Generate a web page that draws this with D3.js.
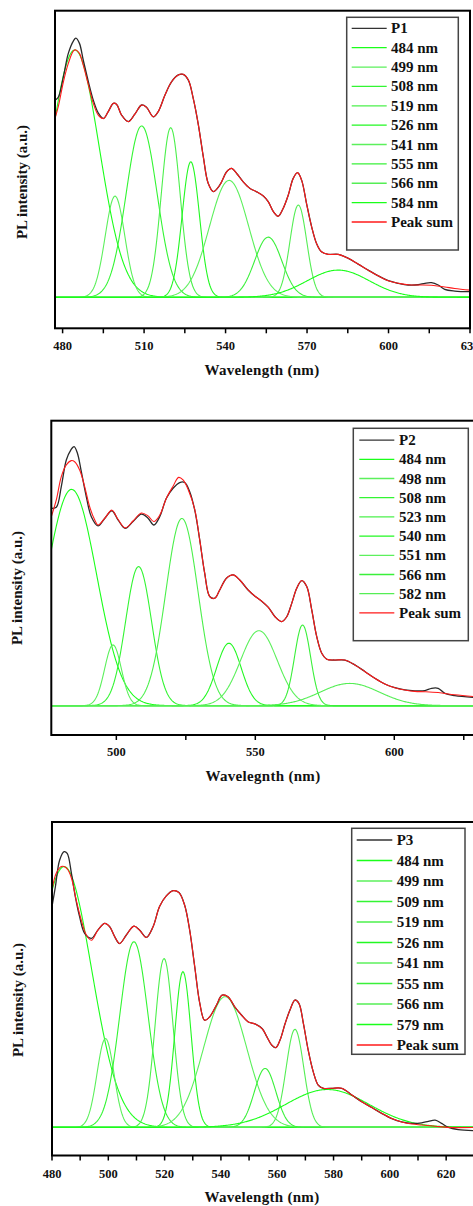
<!DOCTYPE html>
<html>
<head>
<meta charset="utf-8">
<script src="https://cdn.jsdelivr.net/npm/d3@7"></script>
<style>
body { margin: 0; background: #fff; }
svg text { font-family: "Liberation Serif", "Times New Roman", serif; font-weight: bold; fill: #111; }
</style>
</head>
<body>
<div id="canvas"></div>
<script>
// ---- P1 ----
var p1Measured = [[477.2,68.8],[478.4,69.8],[480.3,77.0],[482.1,85.1],[484.0,89.5],[484.9,90.4],[486.2,88.6],[487.6,82.8],[489.5,75.2],[491.3,68.8],[493.2,64.2],[495.0,62.4],[496.8,64.8],[498.7,67.7],[499.9,67.3],[501.7,63.6],[504.2,61.3],[506.6,63.9],[509.1,67.1],[510.9,66.3],[513.4,63.0],[515.2,64.8],[517.7,70.6],[520.1,75.2],[522.6,77.6],[524.4,77.8],[526.3,75.8],[528.1,69.4],[530.0,60.1],[531.8,49.1],[533.6,39.8],[535.5,36.9],[537.9,39.2],[540.4,43.8],[542.2,45.0],[544.1,43.2],[546.5,40.3],[549.0,38.0],[551.5,36.8],[554.0,35.3],[555.7,33.4],[557.6,29.9],[559.4,28.3],[561.2,31.0],[563.1,35.7],[564.9,41.5],[566.5,43.5],[568.0,40.9],[569.8,32.8],[571.7,24.6],[573.5,18.8],[575.3,15.9],[577.8,15.0],[581.5,15.0],[585.2,13.6],[588.8,11.6],[592.5,9.5],[596.2,7.5],[599.9,5.8],[603.6,4.9],[607.2,4.3],[610.9,4.4],[613.4,4.9],[615.8,5.1],[618.3,4.3],[620.7,2.8],[624.4,2.2],[630.0,2.0]];
var p1Sum = [[477.2,62.4],[478.4,66.5],[480.3,75.2],[482.1,81.6],[484.0,86.0],[484.9,86.3],[486.2,85.1],[487.6,81.0],[489.5,74.1],[491.3,67.7],[493.2,63.5],[495.0,62.4],[496.8,64.8],[498.7,67.7],[499.9,67.3],[501.7,63.6],[504.2,61.3],[506.6,63.9],[509.1,67.1],[510.9,66.3],[513.4,63.0],[515.2,64.8],[517.7,70.6],[520.1,75.2],[522.6,77.6],[524.4,77.8],[526.3,75.8],[528.1,69.4],[530.0,60.1],[531.8,49.1],[533.6,39.8],[535.5,36.9],[537.9,39.2],[540.4,43.8],[542.2,45.0],[544.1,43.2],[546.5,40.3],[549.0,38.0],[551.5,36.8],[554.0,35.3],[555.7,33.4],[557.6,29.9],[559.4,28.3],[561.2,31.0],[563.1,35.7],[564.9,41.5],[566.5,43.5],[568.0,40.9],[569.8,32.8],[571.7,24.6],[573.5,18.8],[575.3,15.9],[577.8,15.0],[581.5,15.0],[585.2,13.6],[588.8,11.6],[592.5,9.5],[596.2,7.5],[599.9,5.8],[603.6,4.9],[607.2,4.4],[610.9,4.3],[615.8,4.2],[620.7,3.6],[624.4,3.1],[630.0,2.5]];
var p1Labels = ["484 nm","499 nm","508 nm","519 nm","526 nm","541 nm","555 nm","566 nm","584 nm"];
var p1Centers = [484.5, 499.3, 509.1, 519.8, 527.2, 541.3, 555.7, 566.8, 581.5];
var p1Heights = [86.3, 35.3, 59.8, 59.2, 47.3, 40.8, 21.0, 32.2, 9.5];
var p1Fwhm = [21.2, 8.5, 13.4, 8.2, 7.5, 17.0, 11.8, 7.3, 27.0];

// ---- P2 ----
var p2Measured = [[476.6,69.3],[478.4,69.6],[480.2,76.9],[482.0,86.2],[483.6,89.7],[484.8,90.9],[486.0,88.6],[487.4,82.1],[489.2,73.3],[491.0,66.3],[493.4,63.1],[495.8,65.7],[498.4,68.4],[500.6,65.2],[503.2,62.2],[506.0,64.6],[509.0,67.2],[511.4,65.8],[513.5,63.4],[515.6,66.3],[518.0,72.8],[520.4,76.3],[522.8,78.3],[524.6,78.3],[526.4,75.1],[528.2,68.7],[530.0,58.2],[531.8,46.4],[533.6,38.3],[535.4,37.7],[537.2,40.6],[539.6,44.7],[542.0,45.9],[544.4,44.1],[547.4,40.6],[550.0,38.3],[552.5,36.5],[554.7,34.5],[557.1,31.2],[559.5,29.5],[561.3,31.2],[563.1,35.9],[564.9,41.2],[566.7,43.9],[568.5,41.8],[570.3,33.6],[572.1,24.2],[573.9,18.4],[575.7,16.3],[578.6,16.0],[582.2,16.0],[585.8,14.3],[589.4,12.0],[593.0,9.6],[596.6,7.6],[600.2,6.3],[603.8,5.5],[607.4,5.2],[611.0,5.3],[613.4,6.1],[615.8,6.1],[618.2,4.3],[621.8,3.5],[629.4,2.8]];
var p2Sum = [[476.6,66.3],[478.4,72.2],[480.2,80.4],[482.0,84.5],[483.8,86.0],[485.0,85.6],[486.8,82.7],[488.6,76.9],[490.4,69.8],[492.2,65.2],[493.4,63.4],[495.8,65.7],[498.4,68.6],[500.6,65.4],[503.2,62.4],[506.0,64.8],[509.0,67.6],[511.4,66.6],[513.5,64.6],[515.6,66.8],[518.0,72.8],[520.4,77.0],[522.4,80.1],[524.0,79.2],[525.9,75.7],[528.2,68.9],[530.0,58.2],[531.8,46.4],[533.6,38.3],[535.4,37.7],[537.2,40.6],[539.6,44.7],[542.0,45.9],[544.4,44.1],[547.4,40.6],[550.0,38.3],[552.5,36.5],[554.7,34.5],[557.1,31.2],[559.5,29.5],[561.3,31.2],[563.1,35.9],[564.9,41.2],[566.7,43.9],[568.5,41.8],[570.3,33.6],[572.1,24.2],[573.9,18.4],[575.7,16.3],[578.6,16.0],[582.2,16.0],[585.8,14.3],[589.4,12.0],[593.0,9.6],[596.6,7.6],[600.2,6.3],[603.8,5.5],[607.4,5.0],[611.0,4.9],[615.8,4.6],[621.8,3.8],[629.4,3.1]];
var p2Labels = ["484 nm","498 nm","508 nm","523 nm","540 nm","551 nm","566 nm","582 nm"];
var p2Centers = [483.9, 498.8, 508.0, 523.6, 540.5, 551.3, 567.0, 584.0];
var p2Heights = [75.9, 21.3, 48.8, 65.7, 21.9, 26.3, 28.3, 7.8];
var p2Fwhm = [21.2, 7.1, 11.0, 13.7, 10.4, 15.5, 6.8, 25.2];

// ---- P3 ----
var p3Measured = [[480.0,72.3],[481.2,78.8],[482.7,87.5],[484.3,90.3],[485.4,89.7],[486.9,83.2],[488.3,75.5],[489.8,69.0],[491.6,63.5],[494.0,61.9],[496.3,64.6],[498.7,66.8],[500.5,65.7],[502.3,62.4],[504.0,60.2],[506.4,63.0],[509.1,65.9],[511.1,64.6],[513.5,62.2],[515.9,65.7],[518.2,72.3],[520.6,75.8],[523.0,77.5],[525.1,76.9],[527.1,72.8],[528.9,64.6],[530.7,52.6],[532.5,40.6],[534.2,35.1],[536.0,36.2],[538.4,40.0],[540.4,43.3],[542.5,42.8],[544.9,39.5],[547.3,36.8],[549.6,34.6],[552.3,33.8],[554.7,32.3],[556.3,29.7],[558.0,27.0],[559.5,26.1],[561.0,28.6],[562.8,34.0],[564.5,38.4],[566.3,41.7],[567.7,40.6],[569.3,34.0],[571.0,25.3],[572.8,18.2],[574.6,13.8],[576.4,12.8],[579.3,12.8],[582.9,12.8],[586.5,10.6],[590.0,8.4],[593.6,6.5],[597.1,4.6],[600.7,2.9],[604.2,1.8],[607.8,1.3],[611.3,1.5],[613.7,2.0],[616.1,2.4],[618.4,1.3],[620.8,0.0],[624.3,-0.7],[630.6,-1.1]];
var p3Sum = [[480.0,77.7],[481.5,83.2],[483.3,85.4],[484.3,85.4],[485.7,84.3],[487.1,81.0],[488.6,74.4],[490.4,67.9],[492.2,63.0],[494.0,61.3],[496.3,64.6],[498.7,66.8],[500.5,65.7],[502.3,62.4],[504.0,60.2],[506.4,63.0],[509.1,65.9],[511.1,64.6],[513.5,62.2],[515.9,65.7],[518.2,72.3],[520.6,75.8],[523.0,77.5],[525.1,76.9],[527.1,72.8],[528.9,64.6],[530.7,52.6],[532.5,40.6],[534.2,35.1],[536.0,36.2],[538.4,40.0],[540.4,43.3],[542.5,42.8],[544.9,39.5],[547.3,36.8],[549.6,34.6],[552.3,33.8],[554.7,32.3],[556.3,29.7],[558.0,27.0],[559.5,26.1],[561.0,28.6],[562.8,34.0],[564.5,38.4],[566.3,41.7],[567.7,40.6],[569.3,34.0],[571.0,25.3],[572.8,18.2],[574.6,13.8],[576.4,12.8],[579.3,12.8],[582.9,12.8],[586.5,10.6],[590.0,8.4],[593.6,6.5],[597.1,4.6],[600.7,2.9],[604.2,1.8],[607.8,1.1],[611.3,0.8],[616.1,0.4],[620.8,0.0],[630.6,0.0]];
var p3Labels = ["484 nm","499 nm","509 nm","519 nm","526 nm","541 nm","555 nm","566 nm","579 nm"];
var p3Centers = [484.3, 499.0, 509.1, 519.8, 526.5, 541.5, 555.7, 566.3, 577.8];
var p3Heights = [85.4, 29.1, 60.8, 55.3, 51.0, 42.8, 19.3, 32.1, 12.4];
var p3Fwhm = [23.0, 7.1, 11.8, 7.5, 6.8, 18.1, 9.0, 7.4, 35.0];

var greens = ["#1aff1a", "#5cf05c", "#33f533", "#4cf04c", "#22f822", "#5cf05c", "#3af03a", "#55ee55", "#1aff1a"];

var svg = d3.select("#canvas")
	.append("svg")
	.attr("width", 473)
	.attr("height", 1206);

var panels = [
	{ id: "p1", name: "P1", measured: p1Measured, sum: p1Sum, labels: p1Labels, centers: p1Centers, heights: p1Heights, fwhm: p1Fwhm,
	  left: 55, right: 470, top: 10.7, bottom: 328.3, x0: 477.2, x1: 630, yMin: -10.8,
	  tickStart: 480, tickStep: 15, labelStep: 30, tickLabelY: 350,
	  xTitle: "Wavelength (nm)", xTitleX: 262, xTitleY: 375, yTitleX: 27, yTitleY: 182,
	  leg: { x0: 346.7, x1: 458.3, y0: 17.3, y1: 250, row0: 28.3, step: 19.37, lx0: 351.7, lx1: 386.7, tx: 391 } },
	{ id: "p2", name: "P2", measured: p2Measured, sum: p2Sum, labels: p2Labels, centers: p2Centers, heights: p2Heights, fwhm: p2Fwhm,
	  left: 51.3, right: 476, top: 420.7, bottom: 735, x0: 476.6, x1: 629.4, yMin: -10.3,
	  tickStart: 500, tickStep: 25, labelStep: 50, tickLabelY: 756,
	  xTitle: "Wavelegnth (nm)", xTitleX: 263, xTitleY: 781, yTitleX: 22, yTitleY: 588,
	  leg: { x0: 353.3, x1: 468.3, y0: 428.3, y1: 640.7, row0: 440.1, step: 19.2, lx0: 359.3, lx1: 394.3, tx: 399 } },
	{ id: "p3", name: "P3", measured: p3Measured, sum: p3Sum, labels: p3Labels, centers: p3Centers, heights: p3Heights, fwhm: p3Fwhm,
	  left: 52, right: 476, top: 822, bottom: 1155.5, x0: 480, x1: 630.6, yMin: -9.2,
	  tickStart: 480, tickStep: 10, labelStep: 20, tickLabelY: 1177.7,
	  xTitle: "Wavelength (nm)", xTitleX: 262, xTitleY: 1202, yTitleX: 23, yTitleY: 1000,
	  leg: { x0: 351.7, x1: 465, y0: 828.3, y1: 1054.3, row0: 840, step: 20.5, lx0: 356.7, lx1: 392.3, tx: 396.7 } }
];

function gaussian(c, h, fwhm){
	var s = fwhm / 2.3548;
	return function(x){ return h * Math.exp(-(x - c) * (x - c) / (2 * s * s)); };
}

panels.forEach(drawPanel);

function drawPanel(p){
	var x = d3.scaleLinear().domain([p.x0, p.x1]).range([p.left, p.right]);
	var y = d3.scaleLinear().domain([p.yMin, 100]).range([p.bottom, p.top]);

	svg.append("clipPath")
		.attr("id", "clip-" + p.id)
		.append("rect")
		.attr("x", p.left).attr("y", p.top)
		.attr("width", p.right - p.left).attr("height", p.bottom - p.top);

	var plot = svg.append("g").attr("clip-path", "url(#clip-" + p.id + ")");

	var line = d3.line()
		.x(function(d){ return x(d[0]); })
		.y(function(d){ return y(d[1]); })
		.curve(d3.curveCatmullRom.alpha(0.5));

	// fitted peaks, drawn over the whole range so the tails form the baseline
	var xs = d3.range(p.x0, p.x1 + 0.3, 0.3);
	p.centers.forEach(function(c, i){
		var g = gaussian(c, p.heights[i], p.fwhm[i]);
		plot.append("path")
			.datum(xs.map(function(v){ return [v, g(v)]; }))
			.attr("fill", "none")
			.attr("stroke", greens[i % greens.length])
			.attr("stroke-width", 1.1)
			.attr("d", d3.line().x(function(d){ return x(d[0]); }).y(function(d){ return y(d[1]); }));
	});

	plot.append("path")
		.datum(p.measured)
		.attr("fill", "none")
		.attr("stroke", "#2a2a2a")
		.attr("stroke-width", 1.3)
		.attr("d", line);

	plot.append("path")
		.datum(p.sum)
		.attr("fill", "none")
		.attr("stroke", "#ff1a1a")
		.attr("stroke-width", 1.1)
		.attr("d", line);

	// frame
	svg.append("rect")
		.attr("x", p.left).attr("y", p.top)
		.attr("width", p.right - p.left).attr("height", p.bottom - p.top)
		.attr("fill", "none")
		.attr("stroke", "#000")
		.attr("stroke-width", 2);

	var ticks = d3.range(p.tickStart, p.x1 + 0.01, p.tickStep);
	svg.selectAll(".tick-" + p.id)
		.data(ticks)
		.enter()
		.append("line")
		.attr("class", "tick-" + p.id)
		.attr("x1", function(d){ return x(d); })
		.attr("x2", function(d){ return x(d); })
		.attr("y1", p.bottom)
		.attr("y2", p.bottom + 5)
		.attr("stroke", "#000")
		.attr("stroke-width", 1.5);

	svg.selectAll(".tlabel-" + p.id)
		.data(ticks.filter(function(d){ return (d - p.tickStart) % p.labelStep === 0; }))
		.enter()
		.append("text")
		.attr("class", "tlabel-" + p.id)
		.attr("x", function(d){ return x(d); })
		.attr("y", p.tickLabelY)
		.attr("text-anchor", "middle")
		.attr("font-size", 12.5)
		.text(function(d){ return d; });

	svg.append("text")
		.attr("x", p.xTitleX)
		.attr("y", p.xTitleY)
		.attr("text-anchor", "middle")
		.attr("font-size", 15)
		.attr("letter-spacing", 0.3)
		.text(p.xTitle);

	svg.append("text")
		.attr("transform", "translate(" + p.yTitleX + "," + p.yTitleY + ") rotate(-90)")
		.attr("text-anchor", "middle")
		.attr("font-size", 15)
		.text("PL intensity (a.u.)");

	// legend
	var L = p.leg;
	svg.append("rect")
		.attr("x", L.x0).attr("y", L.y0)
		.attr("width", L.x1 - L.x0).attr("height", L.y1 - L.y0)
		.attr("fill", "#fff")
		.attr("stroke", "#444")
		.attr("stroke-width", 1.5);

	var entries = [{ text: p.name, color: "#333" }]
		.concat(p.labels.map(function(t, i){ return { text: t, color: greens[i % greens.length] }; }))
		.concat([{ text: "Peak sum", color: "#ff1a1a" }]);

	var rows = svg.selectAll(".leg-" + p.id)
		.data(entries)
		.enter()
		.append("g")
		.attr("class", "leg-" + p.id)
		.attr("transform", function(d, i){ return "translate(0," + (L.row0 + i * L.step) + ")"; })
		.each(function(d){
			d3.select(this).append("line")
				.attr("x1", L.lx0).attr("x2", L.lx1)
				.attr("y1", 0).attr("y2", 0)
				.attr("stroke", d.color)
				.attr("stroke-width", 1.3);
			d3.select(this).append("text")
				.attr("x", L.tx)
				.attr("y", 5)
				.attr("font-size", 15)
				.text(d.text);
		});
}
</script>
</body>
</html>
